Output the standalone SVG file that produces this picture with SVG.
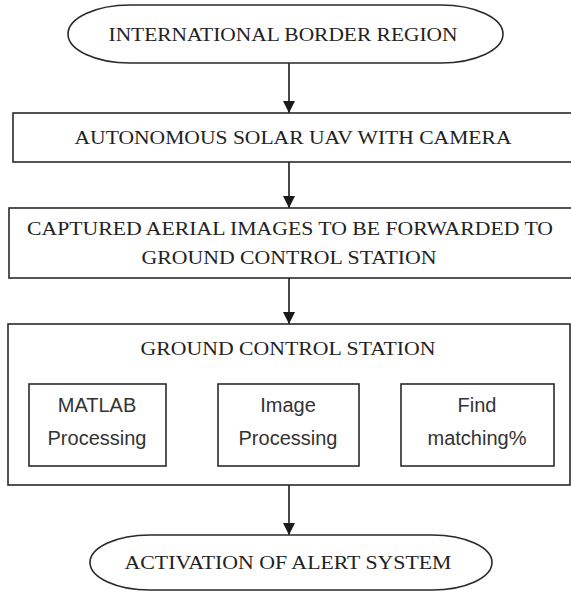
<svg xmlns="http://www.w3.org/2000/svg" width="571" height="592" viewBox="0 0 571 592">
<defs>
<style>
.shape{fill:#fff;stroke:#2a2a2a;stroke-width:1.6}
.serif{font-family:"Liberation Serif","Times New Roman",serif;font-size:19px;fill:#222;text-anchor:middle;dominant-baseline:central}
.sans{font-family:"Liberation Sans",Arial,sans-serif;font-size:20px;fill:#333;text-anchor:middle;dominant-baseline:central}
.conn{stroke:#1a1a1a;stroke-width:1.6;fill:none;marker-end:url(#ah)}
</style>
<marker id="ah" viewBox="0 0 10 10" refX="10" refY="5" markerWidth="12" markerHeight="12" markerUnits="userSpaceOnUse" orient="auto">
<path d="M0,0 L10,5 L0,10 Z" fill="#1a1a1a"/>
</marker>
</defs>
<rect width="571" height="592" fill="#fff"/>
<g id="connectors">
<line class="conn" x1="289" y1="63" x2="289" y2="113"/>
<line class="conn" x1="289" y1="162" x2="289" y2="208"/>
<line class="conn" x1="289" y1="278" x2="289" y2="324"/>
<line class="conn" x1="289" y1="485" x2="289" y2="535"/>
<line class="conn" x1="166" y1="422" x2="218" y2="422"/>
<line class="conn" x1="359" y1="424" x2="401" y2="424"/>
</g>
<g id="n_border">
<path class="shape" d="M130,5 H441 A62,29 0 0 1 441,63 H130 A62,29 0 0 1 130,5 Z"/>
<text class="serif" x="283" y="34" textLength="349" lengthAdjust="spacingAndGlyphs">INTERNATIONAL BORDER REGION</text>
</g>
<g id="n_uav">
<rect class="shape" x="13" y="113" width="570" height="49"/>
<text class="serif" x="293" y="137" textLength="437" lengthAdjust="spacingAndGlyphs">AUTONOMOUS SOLAR UAV WITH CAMERA</text>
</g>
<g id="n_captured">
<rect class="shape" x="9" y="208" width="574" height="70"/>
<text class="serif" x="290" y="228" textLength="526" lengthAdjust="spacingAndGlyphs">CAPTURED AERIAL IMAGES TO BE FORWARDED TO</text>
<text class="serif" x="289" y="257" textLength="295" lengthAdjust="spacingAndGlyphs">GROUND CONTROL STATION</text>
</g>
<g id="n_gcs">
<rect class="shape" x="8" y="324" width="562" height="161"/>
<text class="serif" x="288" y="348" textLength="295" lengthAdjust="spacingAndGlyphs">GROUND CONTROL STATION</text>
</g>
<g id="n_matlab">
<rect class="shape" x="29" y="384" width="137" height="82"/>
<text class="sans" x="97" y="405">MATLAB</text>
<text class="sans" x="97" y="438">Processing</text>
</g>
<g id="n_image">
<rect class="shape" x="218" y="384" width="141" height="82"/>
<text class="sans" x="288" y="405">Image</text>
<text class="sans" x="288" y="438">Processing</text>
</g>
<g id="n_find">
<rect class="shape" x="401" y="384" width="153" height="82"/>
<text class="sans" x="477" y="405">Find</text>
<text class="sans" x="477" y="438">matching%</text>
</g>
<g id="n_alert">
<path class="shape" d="M150,535 H432 A60,27.5 0 0 1 432,590 H150 A60,27.5 0 0 1 150,535 Z"/>
<text class="serif" x="288" y="562" textLength="327" lengthAdjust="spacingAndGlyphs">ACTIVATION OF ALERT SYSTEM</text>
</g>
</svg>
